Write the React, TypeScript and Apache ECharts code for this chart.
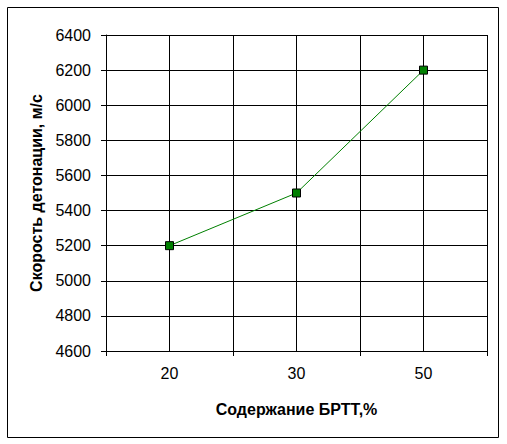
import React, { useEffect, useRef } from "react";
import * as echarts from "echarts";

const categories = ["20", "30", "50"];
const velocity = [5200, 5500, 6200];
const yMin = 4600;
const yMax = 6400;
const yStep = 200;
const xTitle = "Содержание БРТТ,%";
const yTitle = "Скорость детонации, м/с";

export default function App() {
  const ref = useRef<HTMLDivElement>(null);
  useEffect(() => {
    const chart = echarts.init(ref.current!, null, { renderer: "svg" });
    const font = "'Liberation Sans', Arial, sans-serif";
    chart.setOption({
      animation: false,
      backgroundColor: "#ffffff",
      graphic: [
        {
          type: "rect",
          shape: { x: 7.5, y: 7.5, width: 491, height: 430 },
          style: { fill: "none", stroke: "#000", lineWidth: 1 },
          silent: true,
        },
      ],
      grid: { left: 106, right: 20, top: 35, bottom: 93, containLabel: false },
      xAxis: [
        {
          type: "category",
          data: categories,
          boundaryGap: true,
          axisLine: { show: true, lineStyle: { color: "#000", width: 1 } },
          axisTick: { show: true, length: 5, lineStyle: { color: "#000" } },
          axisLabel: { color: "#000", fontFamily: font, fontSize: 16, margin: 14 },
          splitLine: { show: true, lineStyle: { color: "#000", width: 1 } },
          name: xTitle,
          nameLocation: "middle",
          nameGap: 50,
          nameTextStyle: { color: "#000", fontFamily: font, fontSize: 16, fontWeight: "bold" },
        },
        {
          type: "value",
          min: 0,
          max: 6,
          interval: 1,
          position: "bottom",
          axisLine: { show: false },
          axisTick: { show: false },
          axisLabel: { show: false },
          splitLine: { show: true, lineStyle: { color: "#000", width: 1 } },
        },
      ],
      yAxis: {
        type: "value",
        min: yMin,
        max: yMax,
        interval: yStep,
        axisLine: { show: true, lineStyle: { color: "#000", width: 1 } },
        axisTick: { show: true, length: 5, lineStyle: { color: "#000" } },
        axisLabel: {
          color: "#000",
          fontFamily: font,
          fontSize: 16,
          margin: 15,
          formatter: (v: number) => String(v),
        },
        splitLine: { show: true, lineStyle: { color: "#000", width: 1 } },
        name: yTitle,
        nameLocation: "middle",
        nameGap: 62,
        nameRotate: 90,
        nameTextStyle: { color: "#000", fontFamily: font, fontSize: 16, fontWeight: "bold" },
      },
      series: [
        {
          type: "line",
          data: velocity,
          xAxisIndex: 0,
          symbol: "rect",
          symbolSize: 8,
          lineStyle: { color: "#008000", width: 1 },
          itemStyle: { color: "#008000", borderColor: "#000", borderWidth: 1 },
        },
      ],
    });
    return () => chart.dispose();
  }, []);
  return (
    <div
      ref={ref}
      style={{ position: "absolute", left: 0, top: 0, width: 507, height: 444 }}
    />
  );
}
